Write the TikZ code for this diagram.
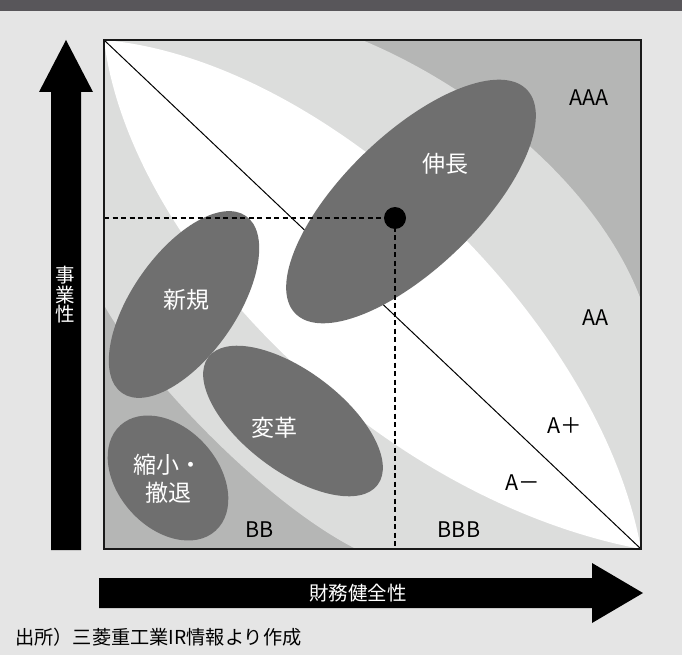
\documentclass[tikz,border=0pt]{standalone}
\usepackage{fontspec}
\setmainfont{Noto Sans CJK JP}
\definecolor{bgc}{HTML}{E5E5E5}
\definecolor{headc}{HTML}{58565A}
\definecolor{darkreg}{HTML}{B5B6B5}
\definecolor{lightreg}{HTML}{DCDDDC}
\definecolor{ellc}{HTML}{6F6F6F}
\tikzset{
  ellfill/.style={fill=ellc},
  jlab/.style={text=white, inner sep=0pt, font=\fontsize{23}{27.7}\selectfont, align=center},
  glab/.style={text=black, inner sep=0pt, font=\fontsize{21.5}{24}\selectfont},
  dashline/.style={draw=black, line width=1.3pt, dash pattern=on 5pt off 3.5pt},
  dotst/.style={circle, fill=black, minimum size=22pt, inner sep=0pt},
  bigarrow/.style={fill=black},
  arrowlab/.style={text=white, inner sep=0pt, font=\fontsize{19.5}{19.5}\selectfont, align=center},
}
\begin{document}
\begin{tikzpicture}[x=1pt,y=-1pt]
\useasboundingbox (0,0) rectangle (682,655);
\fill[bgc] (0,0) rectangle (682,655);
\fill[headc] (0,0) rectangle (682,11);
% box corners
\coordinate (tl) at (104,40);
\coordinate (br) at (641,549);
% regions
\fill[darkreg] (tl) rectangle (br);
\fill[lightreg] (104,40) -- (362,40) .. controls (482,90) and (600,190) .. (641,300)
  -- (641,549) -- (356,549) .. controls (260,500) and (140,370) .. (104,305) -- cycle;
\fill[white] (tl) .. controls (330,60) and (600,320) .. (br)
  .. controls (380,500) and (130,250) .. (tl) -- cycle;
% diagonal
\draw[line width=1pt] (tl) -- (br);
% ellipses
\fill[ellfill, shift={(411,201.5)}, rotate=44] (0,0) ellipse [x radius=161pt, y radius=67pt];
\fill[ellfill, shift={(184,304.5)}, rotate=55] (0,0) ellipse [x radius=108pt, y radius=52pt];
\fill[ellfill, shift={(293,421)}, rotate=-37] (0,0) ellipse [x radius=106pt, y radius=50pt];
\fill[ellfill, shift={(168,478)}, rotate=-48] (0,0) ellipse [x radius=71pt, y radius=50pt];
% dashed guides and dot
\coordinate (dotc) at (395,218);
\draw[dashline] (tl |- dotc) -- (dotc);
\draw[dashline] (dotc) -- (dotc |- br);
\node[dotst] (dot) at (dotc) {};
% box border
\draw[line width=2pt, draw=black!90] (tl) rectangle (br);
% ellipse labels
\node[jlab] (shinchou) at (445.5,164) {伸長};
\node[jlab] (shinki) at (186,299.5) {新規};
\node[jlab] (henkaku) at (274,427.5) {変革};
\node[jlab] (shukushou) at (168.3,479) {縮小・\\撤退};
% rating labels
\node[glab] (aaa) at (588.7,97.7) {AAA};
\node[glab] (aa) at (595.7,317.7) {AA};
\node[glab] (aplus) at (565,425.7) {A＋};
\node[glab] (aminus) at (522.7,482.7) {A－};
\node[glab] (bbb) at (459,529.3) {BBB};
\node[glab] (bb) at (259.7,530) {BB};
% axis arrows
\fill[bigarrow] (51,550) -- (51,92) -- (39,92) -- (66,40) -- (93,92) -- (81,92) -- (81,550) -- cycle;
\node[arrowlab] (yaxis) at (65,295) {事\\業\\性};
\fill[bigarrow] (99,578) -- (592,578) -- (592,563) -- (643,593) -- (592,623) -- (592,608) -- (99,608) -- cycle;
\node[arrowlab] (xaxis) at (358,593) {財務健全性};
% source
\node[anchor=west, inner sep=0pt, font=\fontsize{19.2}{21}\selectfont] (source) at (15,637.5) {出所）三菱重工業IR情報より作成};
\end{tikzpicture}
\end{document}
